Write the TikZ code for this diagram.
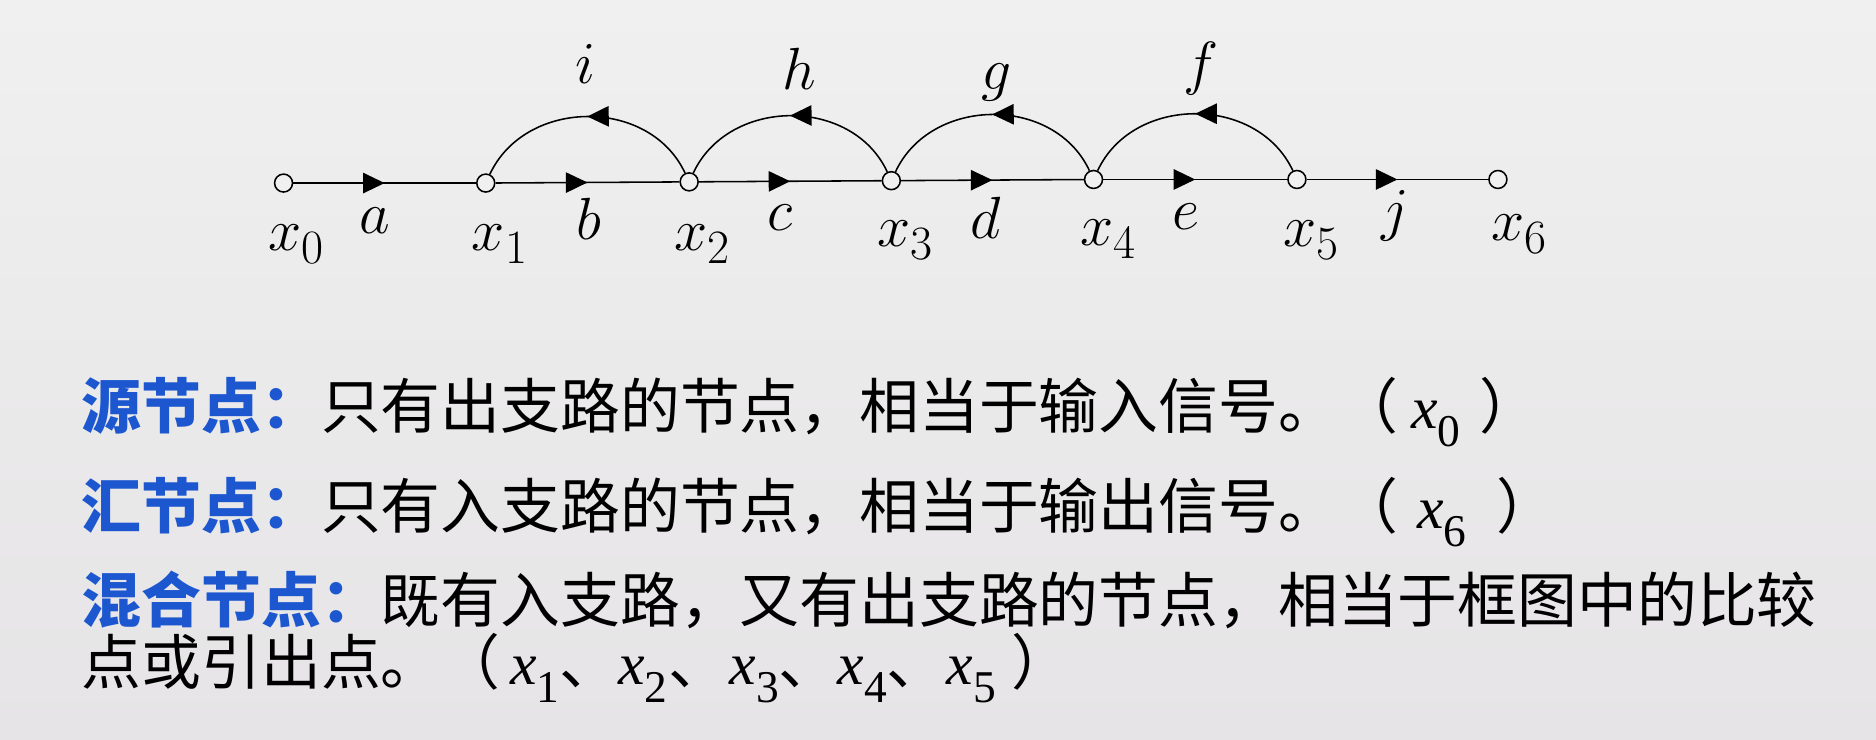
\documentclass[tikz,border=0pt]{standalone}
\usepackage{fontspec}
\usepackage{graphicx}
\usetikzlibrary{arrows.meta,decorations.markings}
\newfontfamily\cjk{Noto Sans CJK SC}
\newfontfamily\tnr{Liberation Serif}
\definecolor{bgtop}{HTML}{F0F0F0}
\definecolor{bgbot}{HTML}{E6E4E6}
\definecolor{kblue}{HTML}{1C57CF}
\newcommand\tx[1]{{\tnr\itshape\fontsize{25}{25}\selectfont x}\raisebox{-7.5pt}{\tnr\fontsize{19}{19}\selectfont #1}}
\newcommand\nx[1]{$x$\raisebox{-5.5pt}{\fontsize{20}{20}\selectfont #1}}
\begin{document}
\begin{tikzpicture}[x=0.5pt,y=-0.5pt,
  sig/.style={circle,draw,line width=0.65pt,minimum size=7.5pt,inner sep=0pt,fill=bgtop},
  edge/.style={line width=0.65pt},
  midarrow/.style={postaction={decorate},decoration={markings,mark=at position 0.5 with {\arrow{Triangle[length=9pt,width=8.5pt]}}}},
  lab/.style={anchor=base,inner sep=0pt,font=\fontsize{24}{24}\selectfont},
  nlab/.style={anchor=base west,inner sep=0pt,font=\fontsize{24}{24}\selectfont},
  cn/.style={anchor=base west,inner sep=0pt,font=\fontsize{25}{25}\selectfont\cjk}
]
\useasboundingbox (0,0) rectangle (1568,617.7);
\shade[top color=bgtop,bottom color=bgbot] (0,0) rectangle (1568,617.7);

% signal nodes
\node[sig] (x0) at (237,153) {};
\node[sig] (x1) at (406,153) {};
\node[sig] (x2) at (576,152) {};
\node[sig] (x3) at (745,151) {};
\node[sig] (x4) at (914,150) {};
\node[sig] (x5) at (1084,150) {};
\node[sig] (x6) at (1252,150) {};

% forward branches
\draw[edge,midarrow] (x0) -- (x1);
\draw[edge,midarrow] (x1) -- (x2);
\draw[edge,midarrow] (x2) -- (x3);
\draw[edge,midarrow] (x3) -- (x4);
\draw[edge,midarrow] (x4) -- (x5);
\draw[edge,midarrow] (x5) -- (x6);

% feedback branches
\draw[edge,midarrow] (x2) to[out=115,in=65,looseness=1.1] (x1);
\draw[edge,midarrow] (x3) to[out=115,in=65,looseness=1.1] (x2);
\draw[edge,midarrow] (x4) to[out=115,in=65,looseness=1.1] (x3);
\draw[edge,midarrow] (x5) to[out=115,in=65,looseness=1.1] (x4);

% branch labels
\node[lab] (la) at (313,195) {$a$};
\node[lab] (lb) at (492,200) {$b$};
\node[lab] (lc) at (652,193) {$c$};
\node[lab] (ld) at (824,199) {$d$};
\node[lab] (le) at (991,192) {$e$};
\node[lab] (lj) at (1166,192) {$j$};
\node[lab] (li) at (489,70) {$i$};
\node[lab] (lh) at (668,75) {$h$};
\node[lab] (lg) at (833,75) {$g$};
\node[lab] (lf) at (1004,70) {$f$};

% node labels
\node[nlab] (lx0) at (224,209) {\nx{0}};
\node[nlab] (lx1) at (394,209) {\nx{1}};
\node[nlab] (lx2) at (563,209) {\nx{2}};
\node[nlab] (lx3) at (733,206) {\nx{3}};
\node[nlab] (lx4) at (903,205) {\nx{4}};
\node[nlab] (lx5) at (1072,206) {\nx{5}};
\node[nlab] (lx6) at (1246,201) {\nx{6}};

% text
\node[cn] (t1) at (68,358) {{\color{kblue}\bfseries 源节点：}只有出支路的节点，相当于输入信号。（\hspace{5.5pt}\tx{0}\hspace{8pt}）};
\node[cn] (t2) at (68,442) {{\color{kblue}\bfseries 汇节点：}只有入支路的节点，相当于输出信号。（\hspace{8pt}\tx{6}\hspace{12.5pt}）};
\node[cn] (t3) at (68,520) {{\color{kblue}\bfseries 混合节点：}既有入支路，又有出支路的节点，相当于框图中的比较};
\node[cn] (t4) at (68,572) {点或引出点。（\hspace{4pt}\tx{1}、\hspace{-0.5pt}\tx{2}\hspace{0.5pt}、\hspace{0.5pt}\tx{3}、\hspace{-0.5pt}\tx{4}、\hspace{0pt}\tx{5}\hspace{6.5pt}）};
\end{tikzpicture}
\end{document}
